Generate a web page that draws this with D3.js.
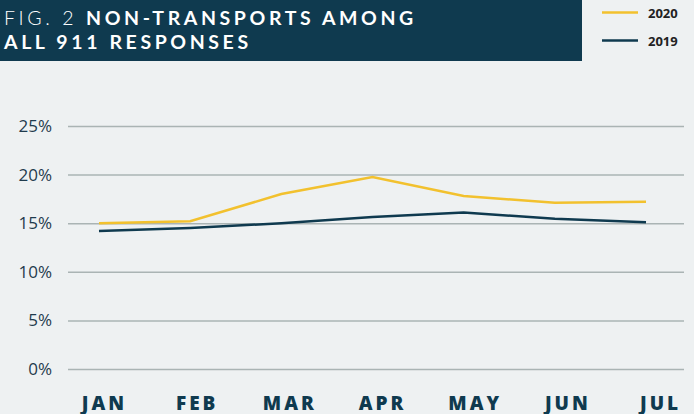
<!DOCTYPE html>
<html>
<head>
<meta charset="utf-8">
<script src="https://cdn.jsdelivr.net/npm/d3@7"></script>
<style>
  html, body { margin: 0; padding: 0; background: #eef1f2; }
  svg { display: block; font-family: "Open Sans", "Lato", sans-serif; }
</style>
</head>
<body>
<div id="chart"></div>
<script>
const months = ["JAN", "FEB", "MAR", "APR", "MAY", "JUN", "JUL"];
const values2020 = [15.0, 15.2, 18.0, 19.75, 17.8, 17.1, 17.2];
const values2019 = [14.2, 14.5, 15.0, 15.65, 16.1, 15.45, 15.1];
const yTicks = [0, 5, 10, 15, 20, 25];

const width = 694, height = 414;
const navy = "#0f3a4f", yellow = "#f2c12e";

const svg = d3.select("#chart").append("svg")
    .attr("width", width)
    .attr("height", height)

svg.append("rect")
    .attr("width", width).attr("height", height)
    .attr("fill", "#eef1f2")

// title block
svg.append("rect")
    .attr("x", 0).attr("y", 0)
    .attr("width", 582).attr("height", 61)
    .attr("fill", navy)

const title1 = svg.append("text")
    .attr("x", 4).attr("y", 24.5)
    .attr("fill", "#ffffff")
    .style("font-family", "Lato, sans-serif")
    .style("font-size", "19.5px")
    .style("letter-spacing", "3.6px")
title1.append("tspan").style("font-weight", 300).text("FIG. 2 ")
title1.append("tspan").style("font-weight", 700).text("NON-TRANSPORTS AMONG")

svg.append("text")
    .attr("x", 4).attr("y", 48.5)
    .attr("fill", "#ffffff")
    .style("font-family", "Lato, sans-serif")
    .style("font-size", "19.5px")
    .style("letter-spacing", "3.6px")
    .style("font-weight", 700)
    .text("ALL 911 RESPONSES")

// legend
const legend = [{name: "2020", color: yellow}, {name: "2019", color: navy}];
const lg = svg.append("g").selectAll("g").data(legend).join("g")
    .attr("transform", (d, i) => `translate(602, ${12.5 + i * 28})`)
lg.append("line")
    .attr("x1", 0).attr("x2", 36)
    .attr("stroke", d => d.color).attr("stroke-width", 2.5)
lg.append("text")
    .attr("x", 46).attr("y", 5)
    .attr("fill", "#222")
    .style("font-size", "13px").style("font-weight", 700)
    .text(d => d.name)

// scales
const yScale = d3.scaleLinear().domain([0, 25]).range([369, 126]);
const xScale = d3.scalePoint().domain(months).range([99, 646]);
const labelScale = d3.scalePoint().domain(months).range([104, 660]);

// grid + y labels
const yAxis = d3.axisLeft(yScale)
    .tickValues(yTicks)
    .tickSize(-(684 - 68))
    .tickPadding(16)
    .tickFormat(d => d + "%")
svg.append("g")
    .attr("transform", "translate(68,0)")
    .call(yAxis)
    .call(g => g.select(".domain").remove())
    .call(g => g.selectAll(".tick line").attr("stroke", "#aab4b4").attr("stroke-width", 1.5))
    .call(g => g.selectAll(".tick text")
        .attr("fill", "#1f3b4d")
        .style("font-size", "17px")
        .style("font-family", "'Open Sans', sans-serif")
        .style("font-weight", 400))

// x labels
const xAxis = d3.axisBottom(labelScale).tickSize(0).tickPadding(0)
svg.append("g")
    .attr("transform", "translate(0,390)")
    .call(xAxis)
    .call(g => g.select(".domain").remove())
    .call(g => g.selectAll(".tick text")
        .attr("dy", "0.71em")
        .attr("y", 6)
        .attr("fill", navy)
        .style("font-size", "19px")
        .style("font-weight", 800)
        .style("letter-spacing", "3px")
        .style("font-family", "'Open Sans', sans-serif"))

// lines
const line = d3.line()
    .x((d, i) => xScale(months[i]))
    .y(d => yScale(d))

svg.append("path")
    .datum(values2019)
    .attr("d", line)
    .attr("fill", "none")
    .attr("stroke", navy)
    .attr("stroke-width", 2.5)

svg.append("path")
    .datum(values2020)
    .attr("d", line)
    .attr("fill", "none")
    .attr("stroke", yellow)
    .attr("stroke-width", 2.5)
</script>
</body>
</html>
